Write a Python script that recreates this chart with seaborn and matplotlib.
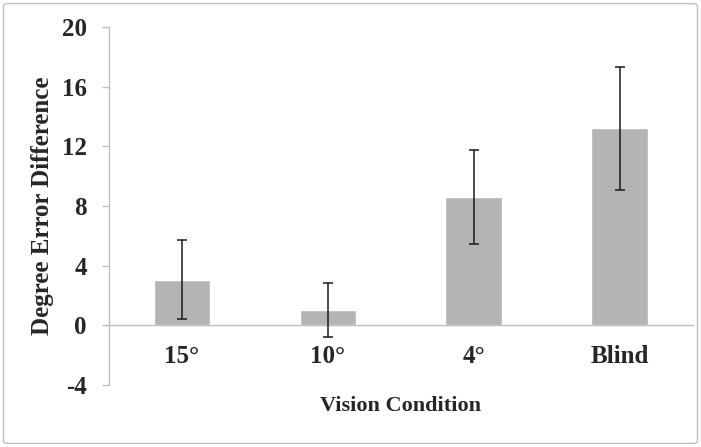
import numpy as np
import pandas as pd
import matplotlib
matplotlib.use("Agg")
import matplotlib.pyplot as plt
from matplotlib.patches import FancyBboxPatch
import seaborn as sns

# data
conditions = ["15°", "10°", "4°", "Blind"]
means = [3.05, 1.0, 8.6, 13.2]
err_low = [0.45, -0.8, 5.45, 9.05]
err_high = [5.7, 2.85, 11.75, 17.3]
yticks = [-4, 0, 4, 8, 12, 16, 20]

sns.set_theme(style="white")
plt.rcParams["font.family"] = ["Liberation Serif", "DejaVu Serif"]
plt.rcParams["font.weight"] = "bold"

df = pd.DataFrame({"condition": conditions, "mean": means})

fig = plt.figure(figsize=(7.01, 4.47), dpi=100)
ax = fig.add_axes([0.1555, 0.1387, 0.833, 0.8009])

sns.barplot(data=df, x="condition", y="mean", color="#b4b4b4", saturation=1,
            width=0.39, errorbar=None, ax=ax)

m = np.array(means)
yerr = np.vstack([m - np.array(err_low), np.array(err_high) - m])
ax.errorbar(np.arange(len(conditions)), m, yerr=yerr, fmt="none",
            ecolor="#1a1a1a", elinewidth=1.1, capsize=3.6, capthick=1.1, zorder=5)

ax.set_xlim(-0.5, 3.5)
ax.set_ylim(-4, 20)
ax.set_yticks(yticks)
ax.set_yticklabels([str(t) for t in yticks], fontsize=18, fontweight="bold")

# category axis sits on the zero line
ax.spines["bottom"].set_position(("data", 0))
ax.spines["top"].set_visible(False)
ax.spines["right"].set_visible(False)
for s in ["left", "bottom"]:
    ax.spines[s].set_color("#bfbfbf")
    ax.spines[s].set_linewidth(1.0)
ax.set_xticks(range(len(conditions)))
ax.set_xticklabels(conditions, fontsize=18, fontweight="bold")
ax.set_xticks([0.5, 1.5, 2.5, 3.5], minor=True)
ax.tick_params(axis="x", which="major", length=0, pad=14)
ax.tick_params(axis="x", which="minor", length=5, color="#bfbfbf", width=1, direction="out")
ax.tick_params(axis="y", length=5, color="#bfbfbf", width=1, direction="out", left=True, pad=11)

ax.set_xlabel("Vision Condition", fontsize=16, fontweight="bold")
ax.xaxis.set_label_coords(0.5, -0.03)
ax.set_ylabel("Degree Error Difference", fontsize=18, fontweight="bold")
ax.yaxis.set_label_coords(-0.095, 0.5)

# Excel-style chart border
border = FancyBboxPatch((0.005, 0.008), 0.99, 0.984, boxstyle="round,pad=0,rounding_size=0.006",
                        transform=fig.transFigure, fill=False, edgecolor="#c0c0c0", lw=1.0)
fig.patches.append(border)

plt.savefig("out.png", dpi=100)
